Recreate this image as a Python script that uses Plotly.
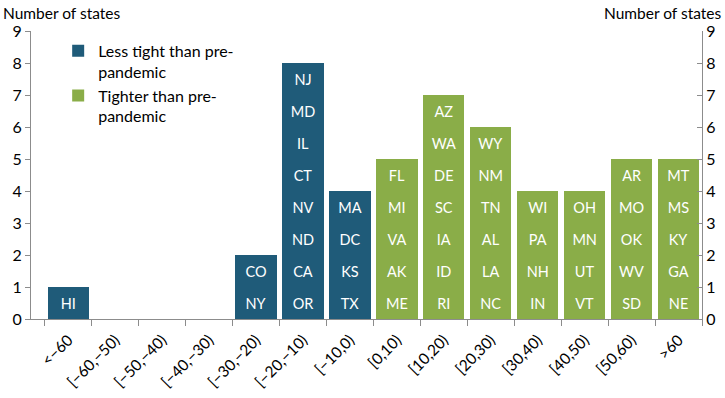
import plotly.graph_objects as go

categories = ["<\u221260", "[\u221260,\u221250)", "[\u221250,\u221240)", "[\u221240,\u221230)",
              "[\u221230,\u221220)", "[\u221220,\u221210)", "[\u221210,0)", "[0,10)", "[10,20)",
              "[20,30)", "[30,40)", "[40,50)", "[50,60)", ">60"]

# states in each bin, listed bottom to top
less_tight = {
    "<\u221260": ["HI"],
    "[\u221260,\u221250)": [],
    "[\u221250,\u221240)": [],
    "[\u221240,\u221230)": [],
    "[\u221230,\u221220)": ["NY", "CO"],
    "[\u221220,\u221210)": ["OR", "CA", "ND", "NV", "CT", "IL", "MD", "NJ"],
    "[\u221210,0)": ["TX", "KS", "DC", "MA"],
}
tighter = {
    "[0,10)": ["ME", "AK", "VA", "MI", "FL"],
    "[10,20)": ["RI", "ID", "IA", "SC", "DE", "WA", "AZ"],
    "[20,30)": ["NC", "LA", "AL", "TN", "NM", "WY"],
    "[30,40)": ["IN", "NH", "PA", "WI"],
    "[40,50)": ["VT", "UT", "MN", "OH"],
    "[50,60)": ["SD", "WV", "OK", "MO", "AR"],
    ">60": ["NE", "GA", "KY", "MS", "MT"],
}

y_ticks = list(range(0, 10))

BLUE = "#1f5b79"
GREEN = "#8aad48"
FONT = "Lato"

fig = go.Figure()

def add_group(groups, color, name):
    xs = list(groups.keys())
    max_n = max(len(v) for v in groups.values())
    for k in range(max_n):
        ys = [1 if len(groups[c]) > k else None for c in xs]
        txt = [groups[c][k] if len(groups[c]) > k else "" for c in xs]
        fig.add_trace(go.Bar(
            x=xs, y=ys, text=txt, name=name, legendgroup=name,
            showlegend=(k == 0), marker=dict(color=color, line=dict(width=0)),
            textposition="inside", insidetextanchor="middle", textangle=0,
            textfont=dict(color="white", size=14.5, family=FONT),
            hoverinfo="skip",
        ))

add_group(less_tight, BLUE, "Less tight than pre-<br>pandemic")
add_group(tighter, GREEN, "Tighter than pre-<br>pandemic")

# invisible trace to activate right axis
fig.add_trace(go.Scatter(x=[categories[0]], y=[0], yaxis="y2", mode="markers",
                         marker=dict(opacity=0), showlegend=False, hoverinfo="skip"))

axis_col = "#8c8c8c"
fig.update_layout(
    width=725, height=398,
    margin=dict(l=31, r=23, t=31, b=79),
    barmode="stack", bargap=0.12,
    plot_bgcolor="white", paper_bgcolor="white",
    font=dict(family=FONT, size=15, color="black"),
    uniformtext=dict(minsize=13, mode="show"),
    xaxis=dict(categoryorder="array", categoryarray=categories, type="category",
               tickson="boundaries", ticks="outside", ticklen=6, tickcolor=axis_col,
               showline=True, linecolor=axis_col, linewidth=1, tickangle=-45,
               ticklabelstandoff=5,
               tickfont=dict(size=15.5), showgrid=False, zeroline=False, automargin=False),
    yaxis=dict(range=[0, 9], tickvals=y_ticks, ticks="outside", ticklen=5,
               tickcolor=axis_col, showline=True, linecolor=axis_col, showgrid=False,
               zeroline=False, tickfont=dict(size=16), automargin=False),
    yaxis2=dict(range=[0, 9], tickvals=y_ticks, overlaying="y", side="right",
                ticks="inside", ticklen=5, tickcolor=axis_col, showline=True,
                linecolor=axis_col, showgrid=False, zeroline=False,
                tickfont=dict(size=16), automargin=False),
    legend=dict(x=0.0405, y=0.99, xanchor="left", yanchor="top", valign="top",
                font=dict(size=16), bgcolor="rgba(0,0,0,0)", tracegroupgap=2,
                traceorder="normal"),
    annotations=[
        dict(text="Number of states", xref="paper", yref="paper", x=0, y=1,
             xshift=-30, yshift=7, xanchor="left", yanchor="bottom", showarrow=False,
             font=dict(size=15.5)),
        dict(text="Number of states", xref="paper", yref="paper", x=1, y=1,
             xshift=22, yshift=7, xanchor="right", yanchor="bottom", showarrow=False,
             font=dict(size=15.5)),
    ],
)

fig.write_html("out.html", config={"displayModeBar": False},
               post_script="document.body.style.margin='0';")
